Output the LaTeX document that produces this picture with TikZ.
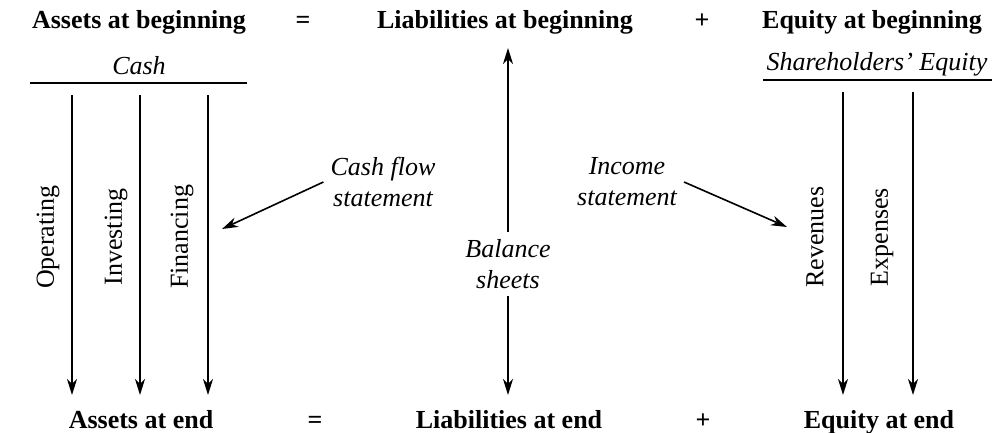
\documentclass[tikz,border=0pt]{standalone}
\usepackage{fontspec}
\setmainfont{Liberation Serif}
\usetikzlibrary{arrows.meta}

\begin{document}
\begin{tikzpicture}[x=1pt, y=-1pt,
    every node/.style={inner sep=0pt, font=\fontsize{26}{31}\selectfont},
    term/.style={anchor=base, font=\fontsize{26}{31}\selectfont\bfseries},
    note/.style={align=center, inner sep=7pt, font=\fontsize{26}{31}\selectfont\itshape},
    acct/.style={rotate=90},
    rule/.style={line width=1.6pt},
    flow/.style={line width=1.6pt, -{Stealth[length=16pt, width=10pt, inset=5pt]}}]
  \useasboundingbox (0,0) rectangle (998,433);

  % accounting equation, top and bottom
  \node[term] (assetsB) at (139,29) {Assets at beginning};
  \node[term] (eqB) at (303,29) {=};
  \node[term] (liabB) at (505,29) {Liabilities at beginning};
  \node[term] (plusB) at (702,29) {+};
  \node[term] (equityB) at (872,29) {Equity at beginning};
  \node[term] (assetsE) at (141,428) {Assets at end};
  \node[term] (eqE) at (315,428) {=};
  \node[term] (liabE) at (509,428) {Liabilities at end};
  \node[term] (plusE) at (703,428) {+};
  \node[term] (equityE) at (879,428) {Equity at end};

  % account headings
  \node[note, anchor=base] (cash) at (139,75) {Cash};
  \node[note, anchor=base] (equity) at (877,71) {Shareholders' Equity};
  \draw[rule] (30,83) -- (247,83);
  \draw[rule] (763,80) -- (992,80);

  % flows into the accounts
  \foreach \x/\name/\lab/\lx/\top in {72/op/Operating/48/95, 140/inv/Investing/116/95,
      208/fin/Financing/182/95, 843/rev/Revenues/815/92, 913/exp/Expenses/882/92} {
    \coordinate (\name top) at (\x,\top);
    \coordinate (\name bot) at (\x,395);
    \draw[flow] (\name top) -- (\name bot);
    \node[acct] (\name lab) at (\lx,237) {\lab};
  }

  % statements
  \node[note] (bal) at (508,264) {Balance\\sheets};
  \coordinate (baltop) at (508,48);
  \coordinate (balbot) at (508,395);
  \draw[flow] (bal.north) -- (baltop);
  \draw[flow] (bal.south) -- (balbot);

  \node[note] (cfs) at (383,182) {Cash flow\\statement};
  \coordinate (cfstip) at (222,229);
  \draw[flow] (cfs.west) -- (cfstip);

  \node[note] (ins) at (627,182) {Income\\statement};
  \coordinate (instip) at (787,227);
  \draw[flow] (ins.east) -- (instip);
\end{tikzpicture}
\end{document}
